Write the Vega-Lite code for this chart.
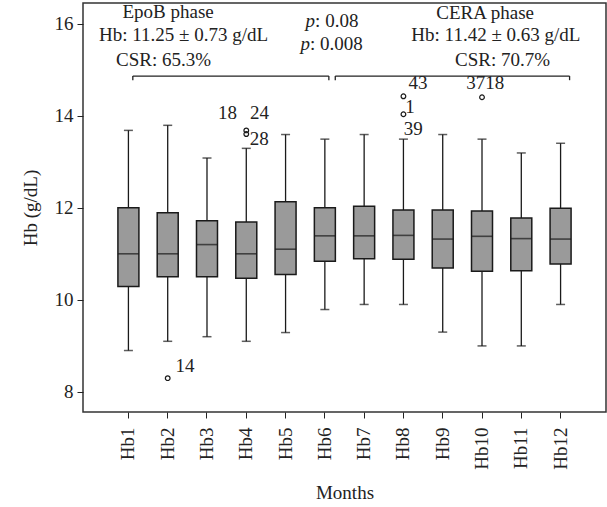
{
  "$schema": "https://vega.github.io/schema/vega-lite/v6.json",
  "width": 523,
  "height": 409,
  "autosize": "none",
  "padding": {"left": 83, "top": 3, "right": 1, "bottom": 95},
  "config": {
    "font": "Liberation Serif",
    "view": {"stroke": "#333333", "strokeWidth": 1.5},
    "axis": {
      "grid": false,
      "domain": false,
      "tickColor": "#222222",
      "tickSize": 6,
      "labelColor": "#222222",
      "labelFont": "Liberation Serif",
      "labelFontSize": 19,
      "titleColor": "#222222",
      "titleFont": "Liberation Serif",
      "titleFontSize": 19,
      "titleFontWeight": "normal"
    },
    "text": {"font": "Liberation Serif", "fontSize": 19, "color": "#222222"}
  },
  "datasets": {
    "boxes": [
      {"month": "Hb1", "lower": 8.9, "q1": 10.29, "median": 11.0, "q3": 12.0, "upper": 13.68},
      {"month": "Hb2", "lower": 9.1, "q1": 10.5, "median": 11.0, "q3": 11.89, "upper": 13.79},
      {"month": "Hb3", "lower": 9.2, "q1": 10.5, "median": 11.2, "q3": 11.72, "upper": 13.08},
      {"month": "Hb4", "lower": 9.1, "q1": 10.47, "median": 11.0, "q3": 11.69, "upper": 13.29},
      {"month": "Hb5", "lower": 9.29, "q1": 10.55, "median": 11.1, "q3": 12.13, "upper": 13.59},
      {"month": "Hb6", "lower": 9.79, "q1": 10.84, "median": 11.39, "q3": 12.0, "upper": 13.49},
      {"month": "Hb7", "lower": 9.9, "q1": 10.89, "median": 11.39, "q3": 12.03, "upper": 13.59},
      {"month": "Hb8", "lower": 9.9, "q1": 10.88, "median": 11.4, "q3": 11.95, "upper": 13.49},
      {"month": "Hb9", "lower": 9.3, "q1": 10.69, "median": 11.32, "q3": 11.95, "upper": 13.59},
      {"month": "Hb10", "lower": 9.0, "q1": 10.62, "median": 11.38, "q3": 11.93, "upper": 13.49},
      {"month": "Hb11", "lower": 9.0, "q1": 10.63, "median": 11.33, "q3": 11.78, "upper": 13.19},
      {"month": "Hb12", "lower": 9.9, "q1": 10.78, "median": 11.32, "q3": 11.99, "upper": 13.4}
    ],
    "outliers": [
      {"month": "Hb2", "hb": 8.3},
      {"month": "Hb4", "hb": 13.68},
      {"month": "Hb4", "hb": 13.6},
      {"month": "Hb8", "hb": 14.42},
      {"month": "Hb8", "hb": 14.03},
      {"month": "Hb10", "hb": 14.4}
    ],
    "notes": [
      {"kind": "center", "k": 2.01, "y": 16.11, "text": "EpoB phase"},
      {"kind": "center", "k": 2.405, "y": 15.63, "text": "Hb: 11.25 ± 0.73 g/dL"},
      {"kind": "center", "k": 1.896, "y": 15.08, "text": "CSR: 65.3%"},
      {"kind": "center", "k": 10.08, "y": 16.1, "text": "CERA phase"},
      {"kind": "center", "k": 10.354, "y": 15.62, "text": "Hb: 11.42 ± 0.63 g/dL"},
      {"kind": "center", "k": 10.524, "y": 15.07, "text": "CSR: 70.7%"},
      {"kind": "label", "k": 2.443, "y": 8.554, "text": "14"},
      {"kind": "label", "k": 3.525, "y": 14.054, "text": "18"},
      {"kind": "label", "k": 4.339, "y": 14.054, "text": "24"},
      {"kind": "label", "k": 4.327, "y": 13.489, "text": "28"},
      {"kind": "label", "k": 8.373, "y": 14.707, "text": "43"},
      {"kind": "label", "k": 8.17, "y": 14.191, "text": "1"},
      {"kind": "label", "k": 8.25, "y": 13.707, "text": "39"},
      {"kind": "label", "k": 10.08, "y": 14.707, "text": "3718"},
      {"kind": "pval", "k": 5.752, "y": 15.93, "text": ": 0.08"},
      {"kind": "pval", "k": 5.624, "y": 15.42, "text": ": 0.008"},
      {"kind": "p", "k": 5.752, "y": 15.93, "text": "p"},
      {"kind": "p", "k": 5.624, "y": 15.42, "text": "p"}
    ],
    "brackets": [
      {"k1": 1.112, "k2": 6.102, "ytop": 14.86, "ybot": 14.77},
      {"k1": 6.265, "k2": 12.229, "ytop": 14.86, "ybot": 14.77}
    ],
    "bracketEnds": [
      {"k": 1.112, "ytop": 14.86, "ybot": 14.77},
      {"k": 6.102, "ytop": 14.86, "ybot": 14.77},
      {"k": 6.265, "ytop": 14.86, "ybot": 14.77},
      {"k": 12.229, "ytop": 14.86, "ybot": 14.77}
    ]
  },
  "layer": [
    {
      "layer": [
        {
          "data": {"name": "boxes"},
          "mark": {"type": "rule", "color": "#1a1a1a", "strokeWidth": 1.3},
          "encoding": {
            "x": {"field": "month", "type": "nominal", "sort": null,
              "scale": {"type": "band", "domain": ["Hb1","Hb2","Hb3","Hb4","Hb5","Hb6","Hb7","Hb8","Hb9","Hb10","Hb11","Hb12"], "paddingInner": 0, "paddingOuter": 0.656},
              "axis": {"title": "Months", "labelAngle": -90, "labelPadding": 9, "titlePadding": 14}},
            "y": {"field": "lower", "type": "quantitative",
              "scale": {"domain": [7.565, 16.446], "nice": false, "zero": false},
              "axis": {"title": "Hb (g/dL)", "values": [8, 10, 12, 14, 16], "labelPadding": 4, "titlePadding": 14}},
            "y2": {"field": "upper"}
          }
        },
        {
          "data": {"name": "boxes"},
          "mark": {"type": "tick", "color": "#1a1a1a", "size": 9, "thickness": 1.5},
          "encoding": {
            "x": {"field": "month", "type": "nominal", "sort": null},
            "y": {"field": "lower", "type": "quantitative"}
          }
        },
        {
          "data": {"name": "boxes"},
          "mark": {"type": "tick", "color": "#1a1a1a", "size": 9, "thickness": 1.5},
          "encoding": {
            "x": {"field": "month", "type": "nominal", "sort": null},
            "y": {"field": "upper", "type": "quantitative"}
          }
        },
        {
          "data": {"name": "boxes"},
          "mark": {"type": "bar", "size": 21, "fill": "#9a9a9a", "stroke": "#1a1a1a", "strokeWidth": 1.5},
          "encoding": {
            "x": {"field": "month", "type": "nominal", "sort": null},
            "y": {"field": "q1", "type": "quantitative"},
            "y2": {"field": "q3"}
          }
        },
        {
          "data": {"name": "boxes"},
          "mark": {"type": "tick", "color": "#1a1a1a", "size": 21, "thickness": 1.6},
          "encoding": {
            "x": {"field": "month", "type": "nominal", "sort": null},
            "y": {"field": "median", "type": "quantitative"}
          }
        },
        {
          "data": {"name": "outliers"},
          "mark": {"type": "point", "shape": "circle", "size": 22, "filled": false, "stroke": "#1a1a1a", "strokeWidth": 1.2, "opacity": 1},
          "encoding": {
            "x": {"field": "month", "type": "nominal", "sort": null},
            "y": {"field": "hb", "type": "quantitative"}
          }
        },
        {
          "mark": {"type": "rule", "color": "#1a1a1a", "strokeWidth": 1.4},
          "encoding": {"y": {"datum": 11.34, "type": "quantitative"}}
        }
      ]
    },
    {
      "layer": [
        {
          "data": {"name": "notes"},
          "transform": [{"filter": "datum.kind === 'center'"}],
          "mark": {"type": "text", "align": "center", "baseline": "alphabetic"},
          "encoding": {
            "x": {"field": "k", "type": "quantitative", "scale": {"domain": [-0.156, 13.156], "nice": false, "zero": false}, "axis": null},
            "y": {"field": "y", "type": "quantitative"},
            "text": {"field": "text"}
          }
        },
        {
          "data": {"name": "notes"},
          "transform": [{"filter": "datum.kind === 'label'"}],
          "mark": {"type": "text", "align": "center", "baseline": "middle"},
          "encoding": {
            "x": {"field": "k", "type": "quantitative"},
            "y": {"field": "y", "type": "quantitative"},
            "text": {"field": "text"}
          }
        },
        {
          "data": {"name": "notes"},
          "transform": [{"filter": "datum.kind === 'pval'"}],
          "mark": {"type": "text", "align": "left", "baseline": "alphabetic"},
          "encoding": {
            "x": {"field": "k", "type": "quantitative"},
            "y": {"field": "y", "type": "quantitative"},
            "text": {"field": "text"}
          }
        },
        {
          "data": {"name": "notes"},
          "transform": [{"filter": "datum.kind === 'p'"}],
          "mark": {"type": "text", "align": "right", "baseline": "alphabetic", "fontStyle": "italic"},
          "encoding": {
            "x": {"field": "k", "type": "quantitative"},
            "y": {"field": "y", "type": "quantitative"},
            "text": {"field": "text"}
          }
        },
        {
          "data": {"name": "brackets"},
          "mark": {"type": "rule", "color": "#222222", "strokeWidth": 1.3},
          "encoding": {
            "x": {"field": "k1", "type": "quantitative"},
            "x2": {"field": "k2"},
            "y": {"field": "ytop", "type": "quantitative"}
          }
        },
        {
          "data": {"name": "bracketEnds"},
          "mark": {"type": "rule", "color": "#222222", "strokeWidth": 1.3},
          "encoding": {
            "x": {"field": "k", "type": "quantitative"},
            "y": {"field": "ytop", "type": "quantitative"},
            "y2": {"field": "ybot"}
          }
        }
      ]
    }
  ],
  "resolve": {"scale": {"x": "independent"}}
}
